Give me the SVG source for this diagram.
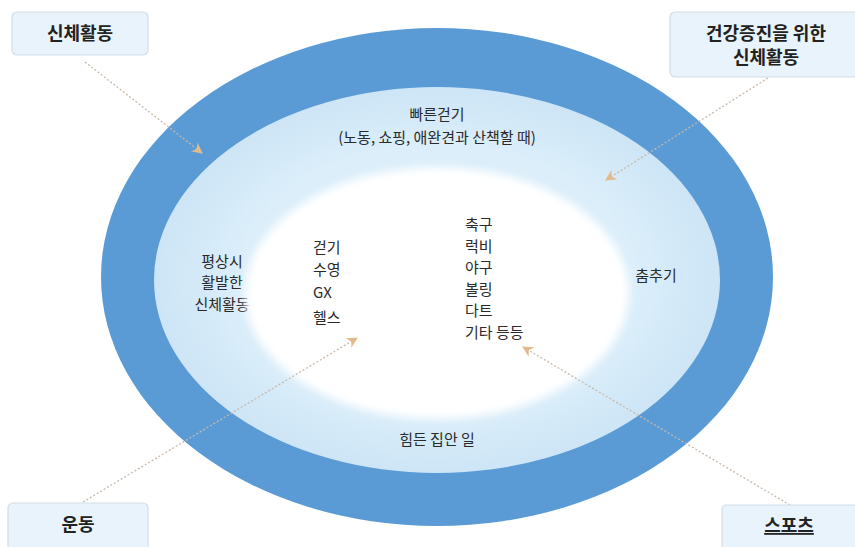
<svg xmlns="http://www.w3.org/2000/svg" width="855" height="547" viewBox="0 0 855 547">
<defs>
<style>
text{font-family:"Noto Sans CJK KR","Noto Sans",sans-serif;fill:#2a2a2a;}
.t{font-size:15px;}
.b{font-size:18px;font-weight:bold;text-anchor:middle;fill:#222;}
.box{fill:#e9f3fb;stroke:#d3dde6;stroke-width:1.2;}
.conn{fill:none;stroke:#c9b8a8;stroke-width:1.3;stroke-dasharray:2 2;}
</style>
<marker id="ah" viewBox="0 0 10 10" refX="9" refY="5" markerWidth="11" markerHeight="11" orient="auto" markerUnits="userSpaceOnUse">
<path d="M0,0 L10,5 L0,10 L3,5 Z" fill="#e3b98e"/>
</marker>
<filter id="blur" x="-20%" y="-20%" width="140%" height="140%"><feGaussianBlur stdDeviation="4"/></filter>
<radialGradient id="mid" cx="0.5" cy="0.5" r="0.5">
<stop offset="0.7" stop-color="#dbeefa"/>
<stop offset="1" stop-color="#cde5f6"/>
</radialGradient>
</defs>
<rect width="855" height="547" fill="#ffffff"/>
<g id="outer">
<ellipse cx="437" cy="277" rx="336" ry="249" fill="#5a9bd6"/>
</g>
<g id="middle">
<ellipse cx="437" cy="280" rx="283" ry="193" fill="url(#mid)"/>
<text class="t" x="437" y="120" text-anchor="middle">빠른걷기</text>
<text class="t" x="437" y="143" text-anchor="middle">(노동, 쇼핑, 애완견과 산책할 때)</text>
<text class="t" x="222" y="267" text-anchor="middle">평상시</text>
<text class="t" x="222" y="288" text-anchor="middle">활발한</text>
<text class="t" x="222" y="310" text-anchor="middle">신체활동</text>
<text class="t" x="656" y="281" text-anchor="middle">춤추기</text>
<text class="t" x="437" y="445" text-anchor="middle">힘든 집안 일</text>
</g>
<g id="inner">
<ellipse cx="437" cy="293" rx="192" ry="126" fill="#ffffff" filter="url(#blur)"/>
<text class="t" x="313" y="253">걷기</text>
<text class="t" x="313" y="275">수영</text>
<text class="t" x="313" y="298">GX</text>
<text class="t" x="313" y="323">헬스</text>
<text class="t" x="465" y="230">축구</text>
<text class="t" x="465" y="252">럭비</text>
<text class="t" x="465" y="273">야구</text>
<text class="t" x="465" y="295">볼링</text>
<text class="t" x="465" y="316">다트</text>
<text class="t" x="465" y="338">기타 등등</text>
</g>
<g id="connectors">
<line class="conn" x1="85" y1="62" x2="202" y2="153" marker-end="url(#ah)"/>
<line class="conn" x1="768" y1="78" x2="606" y2="180" marker-end="url(#ah)"/>
<line class="conn" x1="83" y1="502" x2="357" y2="338" marker-end="url(#ah)"/>
<line class="conn" x1="790" y1="505" x2="523" y2="347" marker-end="url(#ah)"/>
</g>
<g id="box-physical">
<rect class="box" x="12" y="12" width="136" height="43" rx="5"/>
<text class="b" x="80" y="40">신체활동</text>
</g>
<g id="box-health">
<rect class="box" x="670" y="12" width="190" height="65" rx="5"/>
<text class="b" x="766" y="40">건강증진을 위한</text>
<text class="b" x="766" y="64">신체활동</text>
</g>
<g id="box-exercise">
<rect class="box" x="8" y="503" width="140" height="50" rx="5"/>
<text class="b" x="78" y="531">운동</text>
</g>
<g id="box-sports">
<rect class="box" x="722" y="505" width="140" height="50" rx="4"/>
<text class="b" x="789" y="532" text-decoration="underline">스포츠</text>
</g>
</svg>
